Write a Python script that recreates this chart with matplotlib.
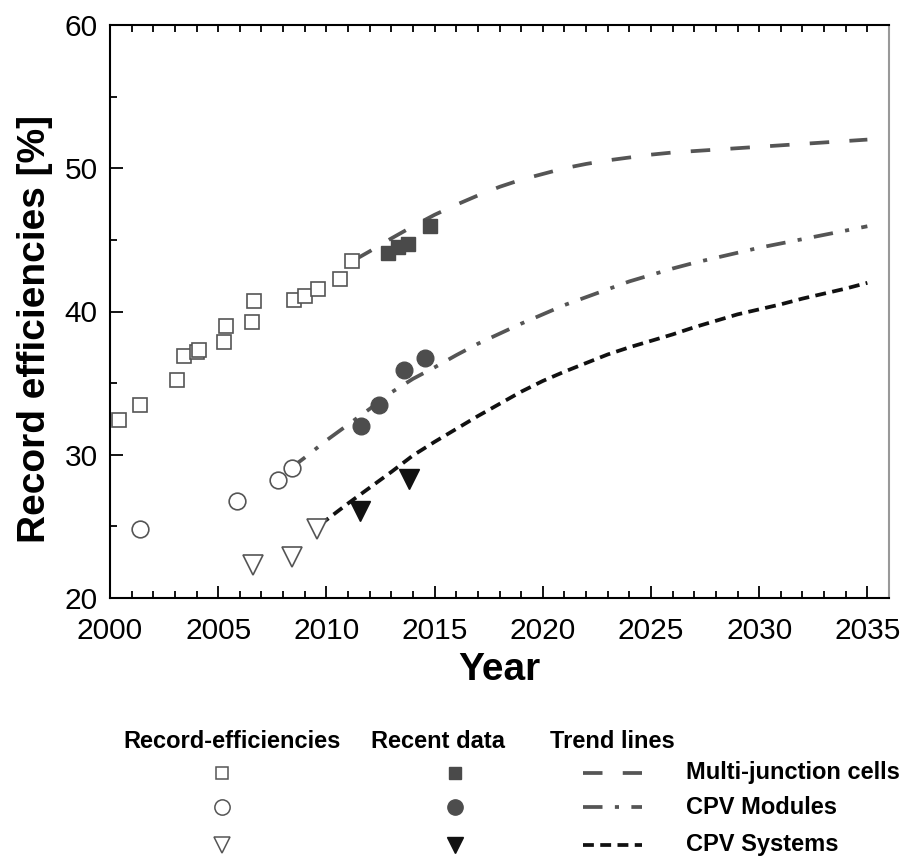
import matplotlib
matplotlib.use("Agg")
import matplotlib.pyplot as plt

plt.rcParams['font.family'] = ['Liberation Sans', 'DejaVu Sans']

# record efficiencies (open symbols)
rec_mj_year = [2000.4, 2001.4, 2003.1, 2003.4, 2004.0, 2004.1, 2005.25, 2005.35,
               2006.55, 2006.65, 2008.5, 2009.0, 2009.6, 2010.65, 2011.2]
rec_mj_eff = [32.4, 33.5, 35.2, 36.9, 37.2, 37.3, 37.9, 39.0,
              39.3, 40.7, 40.8, 41.1, 41.6, 42.3, 43.5]
rec_mod_year = [2001.4, 2005.85, 2007.75, 2008.4]
rec_mod_eff = [24.85, 26.8, 28.25, 29.05]
rec_sys_year = [2006.6, 2008.4, 2009.55]
rec_sys_eff = [22.3, 22.85, 24.8]

# recent data (filled symbols)
new_mj_year = [2012.85, 2013.3, 2013.75, 2014.8]
new_mj_eff = [44.05, 44.5, 44.7, 46.0]
new_mod_year = [2011.6, 2012.45, 2013.6, 2014.55]
new_mod_eff = [32.0, 33.5, 35.9, 36.75]
new_sys_year = [2011.55, 2013.8]
new_sys_eff = [26.05, 28.3]

# trend lines
mj_trend_year = [2011.3, 2012, 2013, 2014, 2015, 2016, 2017, 2018, 2019, 2020,
                 2021, 2022, 2023, 2024, 2025, 2026, 2027, 2028, 2029, 2030,
                 2031, 2032, 2033, 2034, 2035]
mj_trend_eff = [43.6, 44.2, 45.1, 45.95, 46.75, 47.45, 48.1, 48.7, 49.2, 49.6,
                50.0, 50.3, 50.55, 50.75, 50.95, 51.1, 51.2, 51.3, 51.4, 51.5,
                51.6, 51.7, 51.8, 51.9, 52.0]
mod_trend_year = [2008.3, 2009, 2010, 2011, 2012, 2013, 2014, 2015, 2016, 2017,
                  2018, 2019, 2020, 2021, 2022, 2023, 2024, 2025, 2026, 2027,
                  2028, 2029, 2030, 2031, 2032, 2033, 2034, 2035]
mod_trend_eff = [29.0, 29.8, 31.0, 32.1, 33.2, 34.35, 35.3, 36.1, 36.95, 37.75,
                 38.45, 39.15, 39.8, 40.45, 41.0, 41.55, 42.1, 42.55, 43.0, 43.4,
                 43.75, 44.1, 44.45, 44.75, 45.05, 45.35, 45.65, 45.95]
sys_trend_year = [2009.7, 2010, 2011, 2012, 2013, 2014, 2015, 2016, 2017, 2018,
                  2019, 2020, 2021, 2022, 2023, 2024, 2025, 2026, 2027, 2028,
                  2029, 2030, 2031, 2032, 2033, 2034, 2035]
sys_trend_eff = [25.1, 25.45, 26.6, 27.7, 28.8, 29.95, 30.9, 31.8, 32.7, 33.55,
                 34.4, 35.15, 35.8, 36.4, 37.0, 37.5, 37.95, 38.4, 38.9, 39.35,
                 39.8, 40.15, 40.5, 40.9, 41.25, 41.6, 42.0]

legend_headers = ['Record-efficiencies', 'Recent data', 'Trend lines']
legend_labels = ['Multi-junction cells', 'CPV Modules', 'CPV Systems']

GRAY = '#555555'
DASH_MJ = (0, (5.2, 5.4))
DASH_MOD = (0, (5.2, 3.3, 1.1, 3.3))
DASH_SYS = (0, (2.9, 1.7))

fig = plt.figure(figsize=(9.11, 8.59), dpi=100)

# legend area drawn in pixel coords underneath
leg = fig.add_axes([0, 0, 1, 1])
leg.set_xlim(0, 911)
leg.set_ylim(859, 0)
leg.axis('off')

ax = fig.add_axes([110/911, 1 - 598/859, 779/911, 573/859])

# trend lines
ax.plot(mj_trend_year, mj_trend_eff, color=GRAY, lw=2.7, linestyle=DASH_MJ, zorder=2)
ax.plot(mod_trend_year, mod_trend_eff, color=GRAY, lw=2.7, linestyle=DASH_MOD, zorder=2)
ax.plot(sys_trend_year, sys_trend_eff, color='#111111', lw=2.7, linestyle=DASH_SYS, zorder=2)

# open symbols
ax.plot(rec_mj_year, rec_mj_eff, 's', ms=10, mfc='white', mec=GRAY, mew=1.2, ls='none', zorder=3)
ax.plot(rec_mod_year, rec_mod_eff, 'o', ms=12, mfc='white', mec=GRAY, mew=1.2, ls='none', zorder=3)
ax.plot(rec_sys_year, rec_sys_eff, 'v', ms=14, mfc='white', mec=GRAY, mew=1.2, ls='none', zorder=3)

# filled symbols
ax.plot(new_mj_year, new_mj_eff, 's', ms=10, color='#4a4a4a', ls='none', zorder=3)
ax.plot(new_mod_year, new_mod_eff, 'o', ms=12, color='#4d4d4d', ls='none', zorder=3)
ax.plot(new_sys_year, new_sys_eff, 'v', ms=14, color='#111111', ls='none', zorder=3)

ax.set_xlim(2000, 2036)
ax.set_ylim(20, 60)
ax.set_xticks(range(2000, 2036, 5))
ax.set_xticks(range(2000, 2036), minor=True)
ax.set_yticks(range(20, 61, 10))
ax.set_yticks(range(25, 60, 10), minor=True)
ax.tick_params(which='both', direction='in', width=1.3, labelsize=21.5, top=False, right=False)
ax.tick_params(which='major', length=9)
ax.tick_params(which='minor', length=5)
ax.tick_params(axis='x', pad=14)
ax.tick_params(axis='y', pad=9)
for s in ['left', 'bottom', 'top']:
    ax.spines[s].set_linewidth(1.5)
ax.spines['right'].set_color('#999999')
ax.spines['right'].set_linewidth(1.5)

# small ticks along the top edge, one per year
top = ax.twiny()
top.set_xlim(ax.get_xlim())
top.set_xticks(range(2000, 2036))
top.tick_params(direction='in', length=5, width=1.3, labeltop=False)
for s in top.spines.values():
    s.set_visible(False)

ax.set_xlabel('Year', fontsize=28, fontweight='bold')
ax.xaxis.set_label_coords(0.5, -0.095)
ax.set_ylabel('Record efficiencies [%]', fontsize=28, fontweight='bold')
ax.yaxis.set_label_coords(-0.073, 0.47)

# custom legend table
hx = [232, 438, 612]
for x, t in zip(hx, legend_headers):
    leg.text(x, 742, t, fontsize=17, fontweight='bold', ha='center', va='center')

rows_y = [773, 807, 845]
open_style = [('s', 9), ('o', 11), ('v', 12)]
fill_style = [('s', 9, '#4a4a4a'), ('o', 11, '#4d4d4d'), ('v', 12, '#111111')]
line_style = [(GRAY, DASH_MJ), (GRAY, DASH_MOD), ('#111111', DASH_SYS)]
for i, y in enumerate(rows_y):
    m, s = open_style[i]
    leg.plot([222], [y], m, ms=s, mfc='white', mec=GRAY, mew=1.1)
    m, s, c = fill_style[i]
    leg.plot([455], [y], m, ms=s, color=c)
    c, d = line_style[i]
    leg.plot([583, 642], [y, y], color=c, lw=2.7, linestyle=d)
    leg.text(686, y, legend_labels[i], fontsize=17, fontweight='bold', ha='left', va='center')

fig.savefig('out.png', dpi=100, facecolor='white')
